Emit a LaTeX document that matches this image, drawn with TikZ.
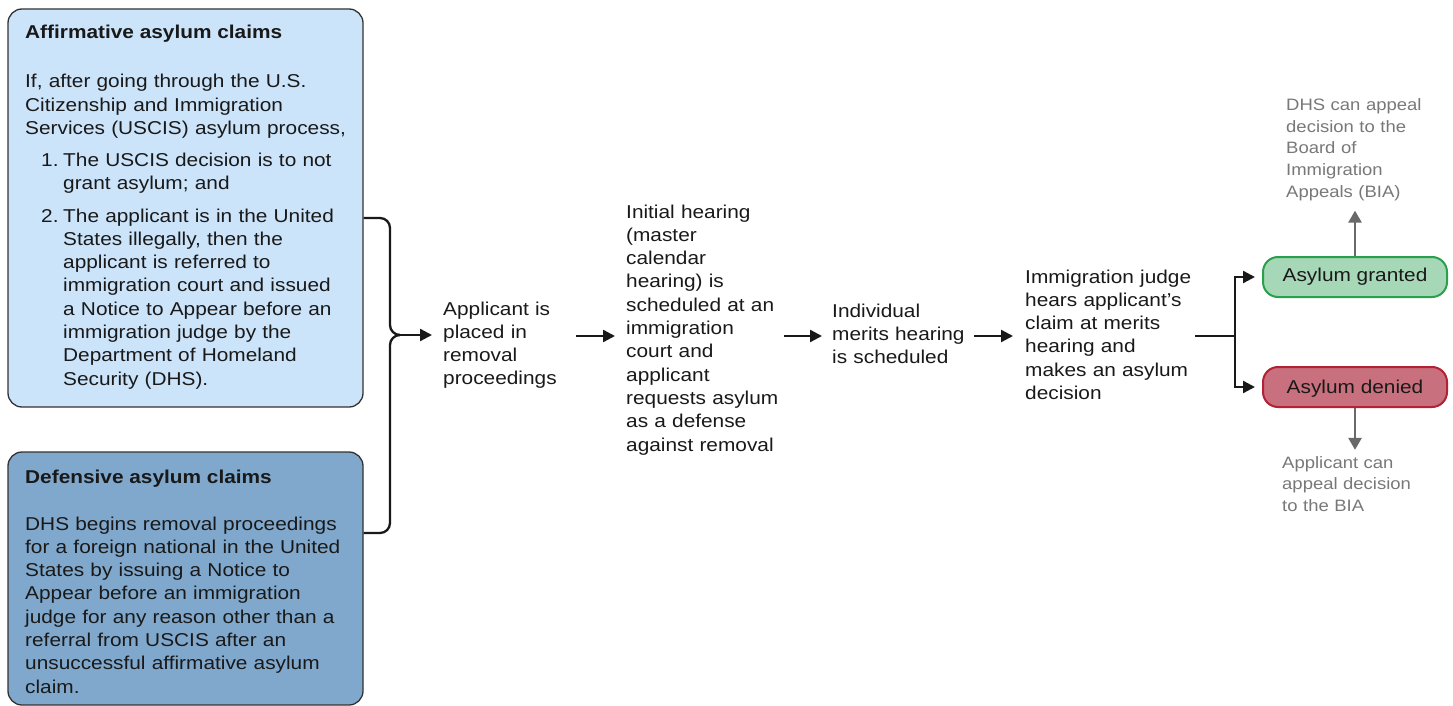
\documentclass[tikz,border=0pt]{standalone}
\usepackage{fontspec}
\setmainfont[FakeStretch=1.12]{Liberation Sans}
\usetikzlibrary{arrows.meta,calc}
\definecolor{affill}{RGB}{204,228,250}
\definecolor{deffill}{RGB}{128,168,204}
\definecolor{boxline}{RGB}{50,50,50}
\definecolor{grfill}{RGB}{166,216,184}
\definecolor{grline}{RGB}{42,160,76}
\definecolor{dnfill}{RGB}{200,112,126}
\definecolor{dnline}{RGB}{178,34,52}
\definecolor{gtext}{RGB}{120,120,120}
\definecolor{garrow}{RGB}{105,105,105}
\definecolor{ink}{RGB}{25,25,25}
\begin{document}
\begin{tikzpicture}[x=1pt,y=-1pt,
  claimbox/.style={draw=boxline, line width=1.3pt, rounded corners=14pt, inner sep=0pt, minimum width=355pt},
  body/.style={font=\fontsize{18.6}{23.3}\selectfont, inner sep=0pt, anchor=base west, align=left, text=ink},
  note/.style={font=\fontsize{16.5}{21.5}\selectfont, inner sep=0pt, anchor=base west, align=left, text=gtext, text width=150pt},
  arr/.style={draw=ink, line width=2.3pt, -{Triangle[length=12pt,width=12pt]}},
  garr/.style={draw=garrow, line width=2.6pt, -{Triangle[length=12pt,width=13pt]}},
  conn/.style={draw=ink, line width=2.3pt},
  outcome/.style={line width=2pt, rounded corners=15pt, minimum width=184pt, minimum height=40pt, inner sep=0pt, font=\fontsize{18.6}{23.3}\selectfont, text=ink}
]
\useasboundingbox (0,0) rectangle (1453,706);

% claim boxes
\node[claimbox, fill=affill, minimum height=398pt] (aff) at (185.5,208) {};
\node[claimbox, fill=deffill, minimum height=253pt] (def) at (185.5,578.5) {};

\node[body, font=\fontsize{18.6}{23.3}\selectfont\bfseries] (afftitle) at (25,39) {Affirmative asylum claims};
\node[body, text width=330pt] (affpara) at (25,88) {If, after going through the U.S.\\Citizenship and Immigration\\Services (USCIS) asylum process,};
\node[body] (n1) at (41,166) {1.};
\node[body, text width=290pt] (i1) at (63,166) {The USCIS decision is to not\\grant asylum; and};
\node[body] (n2) at (41,222) {2.};
\node[body, text width=290pt] (i2) at (63,222) {The applicant is in the United\\States illegally, then the\\applicant is referred to\\immigration court and issued\\a Notice to Appear before an\\immigration judge by the\\Department of Homeland\\Security (DHS).};

\node[body, font=\fontsize{18.6}{23.3}\selectfont\bfseries] (deftitle) at (25,483) {Defensive asylum claims};
\node[body, text width=330pt] (defpara) at (25,530) {DHS begins removal proceedings\\for a foreign national in the United\\States by issuing a Notice to\\Appear before an immigration\\judge for any reason other than a\\referral from USCIS after an\\unsuccessful affirmative asylum\\claim.};

% process steps
\coordinate (mid) at (0,336);
\node[body, text width=130pt] (app) at (443,315) {Applicant is\\placed in\\removal\\proceedings};
\node[body, text width=156pt] (init) at (626,218) {Initial hearing\\(master\\calendar\\hearing) is\\scheduled at an\\immigration\\court and\\applicant\\requests asylum\\as a defense\\against removal};
\node[body, text width=138pt] (merits) at (832,317) {Individual\\merits hearing\\is scheduled};
\node[body, text width=168pt] (judge) at (1025,283) {Immigration judge\\hears applicant’s\\claim at merits\\hearing and\\makes an asylum\\decision};

% outcomes
\node[outcome, draw=grline, fill=grfill] (granted) at (1355,277) {Asylum granted};
\node[outcome, draw=dnline, fill=dnfill, text depth=0pt] (denied) at (1355,387) {Asylum denied};

\node[note] (dhs) at (1286,111) {DHS can appeal\\decision to the\\Board of\\Immigration\\Appeals (BIA)};
\node[note] (appeal) at (1282,468) {Applicant can\\appeal decision\\to the BIA};

% bracket
\coordinate (brace) at (400,335);
\draw[conn, rounded corners=10pt] (aff.east |- 0,218) -- (390,218) -- (390,335) -- (brace);
\draw[conn, rounded corners=10pt] (def.east |- 0,533) -- (390,533) -- (390,335) -- (brace);
\draw[arr, shorten >=11pt] (brace) -- (app.west |- brace);

% step arrows
\draw[arr, shorten <=3pt, shorten >=11pt] (app.east |- mid) -- (init.west |- mid);
\draw[arr, shorten <=2pt, shorten >=10pt] (init.east |- mid) -- (merits.west |- mid);
\draw[arr, shorten <=4pt, shorten >=12pt] (merits.east |- mid) -- (judge.west |- mid);

% fork
\coordinate (fork) at (1235,336);
\draw[conn, shorten <=2pt] (judge.east |- fork) -- (fork);
\draw[arr, shorten >=7pt] (fork) |- (granted.west);
\draw[arr, shorten >=7pt] (fork) |- (denied.west);

% appeals
\draw[garr, shorten >=10pt] (granted.north) -- (granted.north |- dhs.south);
\draw[garr, shorten >=6pt] (denied.south) -- (denied.south |- appeal.north);
\end{tikzpicture}
\end{document}
